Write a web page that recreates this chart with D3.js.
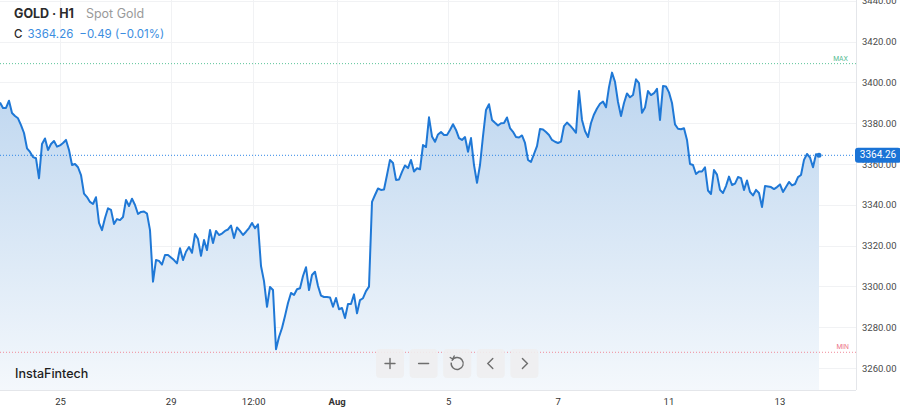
<!DOCTYPE html>
<html>
<head>
<meta charset="utf-8">
<script src="https://cdn.jsdelivr.net/npm/d3@7/dist/d3.min.js"></script>
<style>
  html, body { margin: 0; padding: 0; background: #fff; }
  svg { display: block; font-family: Inter, "Noto Sans", sans-serif; }
</style>
</head>
<body>
<svg id="chart" width="900" height="414"></svg>
<script>
// ---- Data (hourly closes, Spot Gold H1) ----
const closes = [
3390.1,3387.5,3387.5,3391.0,3385.0,3383.5,3382.4,3379.1,3375.2,3367.7,
3365.9,3363.4,3362.8,3353.0,3369.8,3372.5,3366.9,3369.8,3371.3,3368.5,
3369.1,3370.3,3371.8,3366.9,3359.5,3360.0,3358.4,3354.6,3345.5,3343.8,
3341.4,3340.4,3343.7,3331.1,3327.6,3333.5,3338.3,3337.5,3330.6,3333.0,
3332.5,3334.0,3342.4,3339.4,3343.0,3339.9,3335.5,3336.5,3336.7,3335.7,
3327.6,3302.3,3312.9,3312.5,3310.7,3315.4,3315.4,3314.2,3312.9,3311.3,
3318.7,3312.9,3317.0,3319.3,3316.5,3325.7,3323.2,3315.0,3322.7,3317.8,
3327.6,3321.3,3327.2,3325.2,3325.9,3327.2,3327.9,3329.8,3323.7,3328.9,
3327.2,3325.2,3326.8,3328.6,3331.1,3328.5,3330.4,3310.0,3302.6,3290.0,
3299.7,3298.2,3269.2,3275.2,3279.6,3285.5,3291.9,3296.8,3295.8,3298.6,
3299.1,3305.1,3309.4,3298.2,3305.6,3307.2,3300.2,3295.5,3294.8,3294.8,
3294.6,3290.0,3294.3,3288.8,3289.4,3284.5,3291.4,3291.4,3296.1,3286.8,
3293.3,3294.2,3297.7,3299.9,3341.4,3344.8,3348.0,3347.3,3347.5,3354.6,
3362.0,3360.5,3352.2,3352.4,3356.1,3359.3,3358.0,3362.0,3356.3,3357.9,
3357.4,3369.3,3368.3,3382.9,3373.5,3370.9,3374.5,3375.7,3374.2,3374.2,
3376.7,3379.5,3376.7,3372.7,3371.8,3373.2,3366.0,3372.7,3359.5,3350.8,
3359.5,3373.7,3386.5,3389.3,3381.6,3380.2,3378.9,3380.0,3380.1,3382.8,
3377.6,3375.8,3373.2,3373.0,3374.0,3370.3,3362.0,3361.0,3364.9,3368.8,
3377.2,3376.9,3375.7,3374.2,3371.8,3370.9,3370.3,3371.0,3378.6,3380.3,
3378.9,3377.2,3375.3,3395.8,3381.6,3376.2,3373.2,3380.1,3384.3,3387.2,
3389.5,3390.6,3387.8,3397.7,3404.8,3400.3,3390.4,3383.5,3389.9,3394.6,
3392.7,3393.8,3401.5,3399.7,3385.1,3387.7,3395.8,3393.8,3394.7,3396.8,
3381.6,3398.2,3398.0,3395.1,3389.9,3379.4,3377.3,3377.0,3377.5,3371.8,
3360.0,3359.5,3355.1,3356.3,3356.3,3358.4,3347.0,3345.3,3357.1,3354.8,
3347.3,3345.8,3349.2,3353.8,3349.7,3350.4,3353.6,3353.1,3347.3,3351.9,
3346.3,3344.6,3347.3,3345.8,3338.9,3349.2,3349.0,3348.7,3347.7,3348.7,
3350.0,3346.3,3348.7,3351.2,3349.5,3350.2,3353.6,3354.6,3362.0,3364.9,
3363.2,3358.4,3364.75,3364.26
];
const yTicks = [3260, 3280, 3300, 3320, 3340, 3360, 3380, 3400, 3420, 3440];
const xTickLabels = ["25", "29", "12:00", "Aug", "5", "7", "11", "13"];
const xTickIndex  = [20, 56.9, 84.4, 112.2, 149.4, 185.9, 222.8, 259.8];
const maxLevel = 3409.2;
const minLevel = 3267.7;
const lastClose = 3364.26;
const change = -0.49;
const changePct = -0.01;

// ---- Layout ----
const svg = d3.select("#chart");
const plotRight = 856, plotBottom = 390;
const x = d3.scaleLinear().domain([0, closes.length - 1]).range([0, 819]);
const y = d3.scaleLinear().domain([3260, 3440]).range([368, 0.8]);

const defs = svg.append("defs");
const grad = defs.append("linearGradient").attr("id", "fillGrad")
  .attr("gradientUnits", "userSpaceOnUse")
  .attr("x1", 0).attr("y1", 70).attr("x2", 0).attr("y2", plotBottom);
grad.append("stop").attr("offset", "0%").attr("stop-color", "#bcd5ef");
grad.append("stop").attr("offset", "100%").attr("stop-color", "#f4f8fc");

// grid
const grid = svg.append("g");
grid.selectAll(".hg").data(yTicks).join("line")
  .attr("x1", 0).attr("x2", plotRight)
  .attr("y1", d => Math.round(y(d)) + 0.5).attr("y2", d => Math.round(y(d)) + 0.5)
  .attr("stroke", "#f1f2f4").attr("stroke-width", 1);
grid.selectAll(".vg").data(xTickIndex).join("line")
  .attr("x1", d => Math.round(x(d)) + 0.5).attr("x2", d => Math.round(x(d)) + 0.5)
  .attr("y1", 0).attr("y2", plotBottom)
  .attr("stroke", "#f1f2f4").attr("stroke-width", 1);

// area + line
const area = d3.area().x((d, i) => x(i)).y0(plotBottom).y1(d => y(d));
const line = d3.line().x((d, i) => x(i)).y(d => y(d));
svg.append("path").datum(closes).attr("d", area).attr("fill", "url(#fillGrad)");

// level lines
svg.append("line").attr("x1", 0).attr("x2", plotRight)
  .attr("y1", y(maxLevel)).attr("y2", y(maxLevel))
  .attr("stroke", "#5cc49a").attr("stroke-width", 1).attr("stroke-dasharray", "1,2");
svg.append("text").attr("x", 848).attr("y", y(maxLevel) - 3)
  .attr("text-anchor", "end").attr("font-size", 6.5).attr("fill", "#4fb98d").text("MAX");
svg.append("line").attr("x1", 0).attr("x2", plotRight)
  .attr("y1", y(minLevel)).attr("y2", y(minLevel))
  .attr("stroke", "#f08a9a").attr("stroke-width", 1).attr("stroke-dasharray", "1,2");
svg.append("text").attr("x", 849).attr("y", y(minLevel) - 3)
  .attr("text-anchor", "end").attr("font-size", 6.5).attr("fill", "#ec6f84").text("MIN");

// current price dotted line
svg.append("line").attr("x1", 0).attr("x2", plotRight)
  .attr("y1", y(lastClose)).attr("y2", y(lastClose))
  .attr("stroke", "#2f86e6").attr("stroke-width", 1).attr("stroke-dasharray", "1,2");

svg.append("path").datum(closes).attr("d", line)
  .attr("fill", "none").attr("stroke", "#1f78d6").attr("stroke-width", 2)
  .attr("stroke-linejoin", "round");
svg.append("circle").attr("cx", x(closes.length - 1)).attr("cy", y(lastClose))
  .attr("r", 2.5).attr("fill", "#1f78d6");

// axes frame
svg.append("line").attr("x1", plotRight + 0.5).attr("x2", plotRight + 0.5)
  .attr("y1", 0).attr("y2", plotBottom).attr("stroke", "#e4e6ea");
svg.append("line").attr("x1", 0).attr("x2", plotRight)
  .attr("y1", plotBottom + 0.5).attr("y2", plotBottom + 0.5).attr("stroke", "#e4e6ea");

// y axis labels
const yAxis = d3.axisRight(y).tickValues(yTicks).tickFormat(d3.format(".2f")).tickSize(0).tickPadding(6);
const ya = svg.append("g").attr("transform", `translate(${plotRight},0)`).call(yAxis);
ya.select(".domain").remove();
ya.selectAll("text").attr("font-family", "Roboto, 'Noto Sans', sans-serif")
  .attr("font-size", 9.5).attr("fill", "#4a4a4a");

// x axis labels
const xa = svg.append("g").attr("transform", `translate(0,${plotBottom})`)
  .call(d3.axisBottom(x).tickValues(xTickIndex).tickFormat((d, i) => xTickLabels[i]).tickSize(0).tickPadding(8));
xa.select(".domain").remove();
xa.selectAll("text").attr("font-family", "Roboto, 'Noto Sans', sans-serif")
  .attr("font-size", 9.5).attr("fill", "#333")
  .attr("font-weight", (d, i) => xTickLabels[i] === "Aug" ? 700 : 400);

// price tag
svg.append("rect").attr("x", plotRight - 1).attr("y", y(lastClose) - 7.5)
  .attr("width", 46).attr("height", 15).attr("rx", 3).attr("fill", "#1a73d6");
svg.append("text").attr("x", plotRight + 22).attr("y", y(lastClose) + 0.5)
  .attr("text-anchor", "middle").attr("dominant-baseline", "middle")
  .attr("font-family", "Roboto, 'Noto Sans', sans-serif")
  .attr("font-size", 10).attr("fill", "#fff").text(d3.format(".2f")(lastClose));

// header
const h = svg.append("text").attr("x", 14).attr("y", 18).attr("font-size", 12.5);
h.append("tspan").attr("font-weight", 700).attr("fill", "#2b2b2b").text("GOLD · H1");
h.append("tspan").attr("dx", 12).attr("fill", "#9a9a9a").text("Spot Gold");
const h2 = svg.append("text").attr("x", 14).attr("y", 38).attr("font-size", 11.5);
h2.append("tspan").attr("fill", "#2b2b2b").attr("font-weight", 500).text("C");
h2.append("tspan").attr("dx", 5).attr("fill", "#3b8de0").text(d3.format(".2f")(lastClose));
h2.append("tspan").attr("dx", 6).attr("fill", "#3b8de0")
  .text(`${d3.format(".2f")(change)} (${d3.format(".2f")(changePct)}%)`);

// brand
svg.append("text").attr("x", 15).attr("y", 378).attr("font-size", 12.5)
  .attr("font-weight", 500).attr("fill", "#1e1e1e").text("InstaFintech");

// control buttons
const btns = ["plus", "minus", "reset", "left", "right"];
const bg = svg.append("g");
btns.forEach((b, i) => {
  const bx = 376 + i * 33.6, by = 349;
  const g = bg.append("g").attr("transform", `translate(${bx},${by})`);
  g.append("rect").attr("width", 28).attr("height", 29).attr("rx", 4).attr("fill", "#eeeeef").attr("opacity", 0.9);
  const st = { stroke: "#6e6e6e", "stroke-width": 1.4, fill: "none", "stroke-linecap": "round" };
  const p = g.append("path");
  Object.entries(st).forEach(([k, v]) => p.attr(k, v));
  const cx = 14, cy = 14.5;
  if (b === "plus") p.attr("d", `M${cx-5},${cy}H${cx+5}M${cx},${cy-5}V${cy+5}`);
  if (b === "minus") p.attr("d", `M${cx-5},${cy}H${cx+5}`);
  if (b === "left") p.attr("d", `M${cx+2},${cy-5}L${cx-3},${cy}L${cx+2},${cy+5}`);
  if (b === "right") p.attr("d", `M${cx-2},${cy-5}L${cx+3},${cy}L${cx-2},${cy+5}`);
  if (b === "reset") {
    const arc = d3.arc()({ innerRadius: 6, outerRadius: 6, startAngle: -Math.PI * 0.35, endAngle: Math.PI * 1.55 });
    p.attr("d", arc).attr("transform", `translate(${cx},${cy})`).attr("stroke-dasharray", "30,1.5");
    g.append("path").attr("d", `M${cx-7},${cy-6}L${cx-4.5},${cy-4.5}L${cx-3},${cy-7.5}`)
      .attr("stroke", "#6e6e6e").attr("stroke-width", 1.4).attr("fill", "none").attr("stroke-linecap", "round");
  }
});
</script>
</body>
</html>
